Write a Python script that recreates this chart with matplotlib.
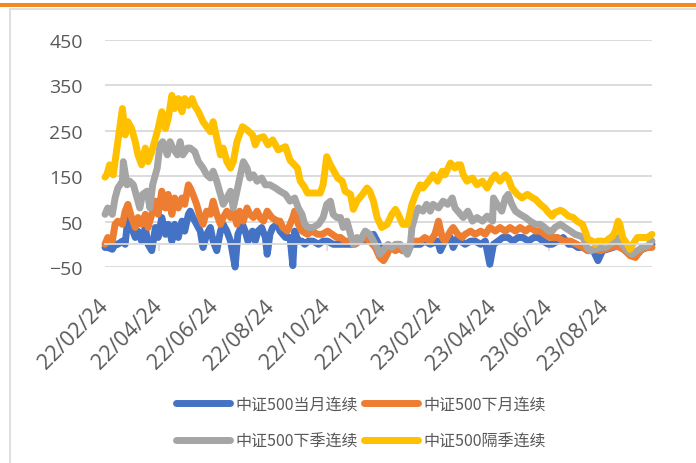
import numpy as np
import pandas as pd
import matplotlib
matplotlib.use("Agg")
import matplotlib.pyplot as plt
import matplotlib.dates as mdates
from matplotlib.patches import Rectangle

# 起始日期，各序列的横坐标为距起始日的天数
START = "2022-02-24"
END_DAY = 597

blue_day = [0, 3, 8, 11, 14, 19, 22, 25, 29, 33, 36, 40, 44, 47, 51, 55, 58, 62, 66, 69, 73, 76, 80, 84, 87, 91,
            93, 96, 100, 104, 107, 111, 115, 118, 122, 126, 129, 133, 137, 142, 145, 150, 153, 156, 161, 164, 167,
            171, 175, 177, 180, 183, 188, 191, 197, 202, 205, 207, 211, 215, 218, 222, 227, 233, 238, 243, 249,
            254, 260, 265, 271, 276, 282, 287, 289, 293, 297, 302, 308, 313, 319, 325, 331, 336, 344, 349, 355,
            363, 366, 371, 377, 380, 385, 388, 393, 399, 404, 410, 415, 420, 424, 429, 434, 440, 445, 451, 456,
            462, 468, 473, 478, 484, 488, 494, 500, 506, 511, 516, 522, 527, 533, 538, 543, 548, 554, 559, 564,
            570, 575, 581, 586, 592, 597]
blue_val = [-7, -7, -11, 0, 0, 7, 0, 59, 37, 15, 29, 7, 37, 0, -14, 37, 15, 59, 22, 44, 7, 44, 15, 51, 29, 66,
            73, 59, 44, 29, -7, 22, 37, 7, -14, 29, 44, 29, 7, -50, 22, 44, 29, 7, 29, 7, 29,
            37, 15, -22, 22, 37, 44, 29, 15, 15, -47, 29, 7, 7, 0, 7, 7, 0, 7, 7, 0,
            0, 0, 0, 0, 7, 7, 7, 15, 22, 7, -14, -7, -7, -7, -14, -7, 0, 0, 7, 0,
            7, -14, 7, 15, -7, 15, 7, 0, 7, 7, 0, 7, -44, 0, 7, 15, 15, 7, 15, 15,
            7, 15, 15, 7, 0, 0, 7, 15, 0, 0, -7, -7, -14, -14, -36, -14, -11, -7, -4, -7,
            -18, -25, -22, -11, -7, 0]

orange_day = [0, 3, 8, 11, 14, 19, 22, 25, 29, 33, 36, 40, 44, 47, 51, 55, 58, 62, 66, 69, 73, 76, 80, 84, 87,
              91, 93, 96, 100, 104, 107, 111, 115, 118, 122, 126, 129, 133, 137, 140, 144, 147, 151, 155, 158,
              162, 166, 169, 173, 177, 182, 188, 191, 194, 199, 202, 205, 207, 211, 215, 221, 226, 232, 237, 243,
              248, 253, 257, 262, 268, 273, 278, 284, 289, 295, 300, 304, 308, 311, 317, 322, 325, 330, 333, 339,
              344, 349, 355, 360, 364, 368, 371, 377, 380, 385, 390, 393, 399, 404, 410, 415, 420, 426, 431, 437,
              442, 448, 453, 459, 464, 470, 475, 480, 486, 494, 500, 508, 515, 522, 527, 533, 541, 546, 551, 557,
              562, 568, 573, 579, 584, 590, 597]
orange_val = [0, 15, 7, 44, 51, 44, 73, 88, 59, 37, 59, 44, 66, 37, 66, 95, 66, 117, 80, 110, 66, 102, 80, 102, 88,
              131, 124, 110, 88, 59, 44, 73, 66, 95, 66, 44, 59, 73, 59, 73, 44, 73, 51, 80, 66,
              59, 73, 59, 51, 73, 59, 51, 51, 37, 29, 44, 59, 73, 44, 29, 22, 29, 22, 22, 29,
              22, 15, 15, 7, 7, 0, 7, 15, 7, -7, -29, -36, -22, -7, -14, -7, -14, -14, 0, 7,
              7, 15, 7, 22, 51, 15, 7, 29, 37, 22, 15, 22, 29, 22, 29, 22, 37, 29, 37, 29,
              37, 29, 37, 29, 37, 29, 29, 22, 15, 15, 7, 7, 0, -7, -14, -11, -14, -11, -7, -4,
              -7, -14, -25, -29, -14, -7, -7]

gray_day = [0, 3, 8, 11, 14, 19, 20, 24, 27, 31, 35, 38, 41, 46, 49, 52, 57, 60, 63, 68, 71, 74, 79, 82, 85, 90,
            93, 98, 102, 107, 111, 115, 118, 122, 126, 129, 133, 137, 140, 144, 147, 151, 155, 158, 162, 166,
            171, 175, 180, 186, 191, 197, 202, 207, 211, 215, 218, 222, 227, 233, 238, 242, 246, 249, 253, 257,
            260, 264, 268, 271, 275, 278, 284, 289, 293, 297, 300, 306, 309, 313, 317, 322, 325, 330, 333, 335,
            339, 342, 347, 351, 355, 358, 364, 369, 374, 379, 382, 385, 388, 391, 396, 401, 406, 412, 417, 423,
            424, 428, 433, 437, 440, 444, 448, 453, 459, 464, 470, 475, 480, 484, 488, 491, 497, 502, 508, 513,
            519, 522, 526, 530, 535, 541, 546, 551, 557, 560, 564, 570, 575, 581, 586, 592, 597]
gray_val = [66, 80, 66, 102, 124, 139, 182, 131, 139, 131, 102, 80, 110, 117, 80, 131, 168, 219, 226, 197, 226,
            212, 197, 226, 197, 212, 212, 204, 182, 168, 153, 146, 161, 139, 110, 88, 102, 117, 80, 117, 146,
            182, 168, 146, 153, 139, 146, 131, 131, 124, 117, 110, 95, 102, 80, 66, 44, 37, 37, 44, 59, 88,
            95, 66, 59, 59, 37, 51, 22, 0, 15, 7, 29, 22, 7, -7, -22, -7, 0, -7, 0, 0, -7, -22, -7, 37,
            66, 80, 73, 88, 73, 88, 80, 95, 88, 102, 80, 73, 66, 59, 73, 51, 59, 51, 62, 51,
            102, 88, 73, 102, 110, 88, 73, 66, 59, 51, 44, 44, 37, 29, 29, 37, 44, 37, 29, 22,
            18, 15, -7, -14, -11, -7, -7, 0, 7, 15, 0, -14, -22, -14, -7, -4, 7]

yellow_day = [0, 2, 5, 9, 13, 19, 22, 25, 29, 33, 36, 40, 44, 47, 51, 55, 58, 62, 66, 69, 73, 76, 80, 84, 87, 91,
              95, 98, 102, 107, 115, 118, 122, 126, 129, 133, 137, 140, 144, 150, 155, 161, 164, 167, 173, 178,
              183, 189, 197, 202, 210, 213, 218, 221, 227, 235, 238, 242, 246, 251, 254, 259, 262, 268, 271, 275,
              281, 286, 289, 293, 297, 302, 308, 313, 317, 320, 325, 330, 335, 339, 344, 347, 353, 358, 363, 368,
              371, 377, 382, 385, 388, 391, 395, 401, 406, 412, 417, 423, 426, 431, 437, 440, 444, 450, 455, 461,
              467, 470, 475, 480, 484, 488, 491, 497, 500, 506, 511, 515, 521, 524, 527, 532, 535, 538, 543, 546,
              549, 554, 557, 560, 562, 565, 570, 573, 576, 581, 586, 592, 597]
yellow_val = [148, 153, 175, 153, 212, 299, 241, 270, 255, 226, 197, 175, 212, 182, 204, 233, 255, 292, 255, 277,
              328, 299, 321, 292, 321, 306, 321, 305, 292, 270, 248, 270, 233, 197, 212, 182, 168, 182, 226, 259,
              252, 241, 219, 233, 237, 219, 230, 208, 215, 185, 168, 140, 125, 113, 113, 113, 131, 193, 175, 157,
              146, 139, 117, 110, 77, 95, 110, 124, 117, 95, 59, 37, 44, 66, 77, 66, 44, 44, 88, 110, 131, 124,
              139, 153, 139, 161, 153, 179, 168, 175, 175, 153, 139, 146, 131, 139, 124, 146, 153, 139, 153, 146,
              124, 110, 102, 110, 102, 99, 88, 80, 70, 62, 70, 75, 72, 62, 59, 51, 44, 29, 11, 7, 0, 7, 7, 4,
              11, 18, 29, 51, 44, 15, 0, -11, 0, 15, 15, 15, 22]

series_names = ["中证500当月连续", "中证500下月连续", "中证500下季连续", "中证500隔季连续"]
series_colors = ["#4472C4", "#ED7D31", "#A5A5A5", "#FFC000"]

yticks = [-50, 50, 150, 250, 350, 450]
tick_dates = ["2022-02-24", "2022-04-24", "2022-06-24", "2022-08-24", "2022-10-24",
              "2022-12-24", "2023-02-24", "2023-04-24", "2023-06-24", "2023-08-24"]

plt.rcParams['font.family'] = ['Open Sans', 'Noto Sans CJK SC', 'DejaVu Sans']
GREY_TXT = "#595959"
GRID = "#D9D9D9"

start = pd.Timestamp(START)
def to_dates(days):
    return start + pd.to_timedelta(np.array(days), unit="D")

fig = plt.figure(figsize=(6.96, 4.64), dpi=100)
W, H = 696, 464

# 顶部橙色条和图表边框
fig.patches.append(Rectangle((0, 1 - 8 / H), 1, 4 / H, transform=fig.transFigure,
                             facecolor="#F28A24", edgecolor="none"))
fig.patches.append(Rectangle((10 / W, -0.1), 1.0, 1.1 - 10 / H, transform=fig.transFigure,
                             facecolor="none", edgecolor=GRID, linewidth=1.2))

ax = fig.add_axes([105 / W, 1 - 268 / H, (652 - 105) / W, (268 - 41) / H])
ax.set_facecolor("none")

days_list = [blue_day, orange_day, gray_day, yellow_day]
vals_list = [blue_val, orange_val, gray_val, yellow_val]
handles = []
for d, v, name, c in zip(days_list, vals_list, series_names, series_colors):
    h, = ax.plot(to_dates(d), v, color=c, lw=5, label=name, clip_on=False,
                 solid_joinstyle="round", solid_capstyle="round")
    handles.append(h)

ax.set_ylim(-50, 450)
ax.set_yticks(yticks)
ax.set_xlim(start, start + pd.Timedelta(days=END_DAY))
ax.grid(axis="y", color=GRID, lw=1.3, zorder=0)
ax.set_axisbelow(True)
for s in ax.spines.values():
    s.set_visible(False)

# 横轴放在0处，标签在下方
ax.spines["bottom"].set_visible(True)
ax.spines["bottom"].set_position(("data", 0))
ax.spines["bottom"].set_color(GRID)
ax.spines["bottom"].set_linewidth(1.3)
ax.set_xticks(pd.to_datetime(tick_dates))
ax.xaxis.set_major_formatter(mdates.DateFormatter("%y/%m/%d"))
ax.tick_params(axis="x", length=5, width=1.2, color=GRID, pad=37, labelsize=15.5, labelcolor=GREY_TXT)
for lb in ax.get_xticklabels():
    lb.set_rotation(45)
    lb.set_ha("right")
    lb.set_va("center")
    lb.set_rotation_mode("anchor")
ax.tick_params(axis="y", length=0, pad=16, labelsize=14, labelcolor=GREY_TXT)

order = [0, 2, 1, 3]
leg = fig.legend([handles[i] for i in order], [series_names[i] for i in order],
                 loc="center", bbox_to_anchor=(361 / W, 1 - 424 / H), ncol=2, frameon=False,
                 prop={"family": ["Noto Sans CJK SC", "DejaVu Sans"], "size": 11.5},
                 handlelength=3.4, handletextpad=0.35, columnspacing=0.35, labelspacing=1.25)
for t in leg.get_texts():
    t.set_color(GREY_TXT)

fig.savefig("out.png", dpi=100)
